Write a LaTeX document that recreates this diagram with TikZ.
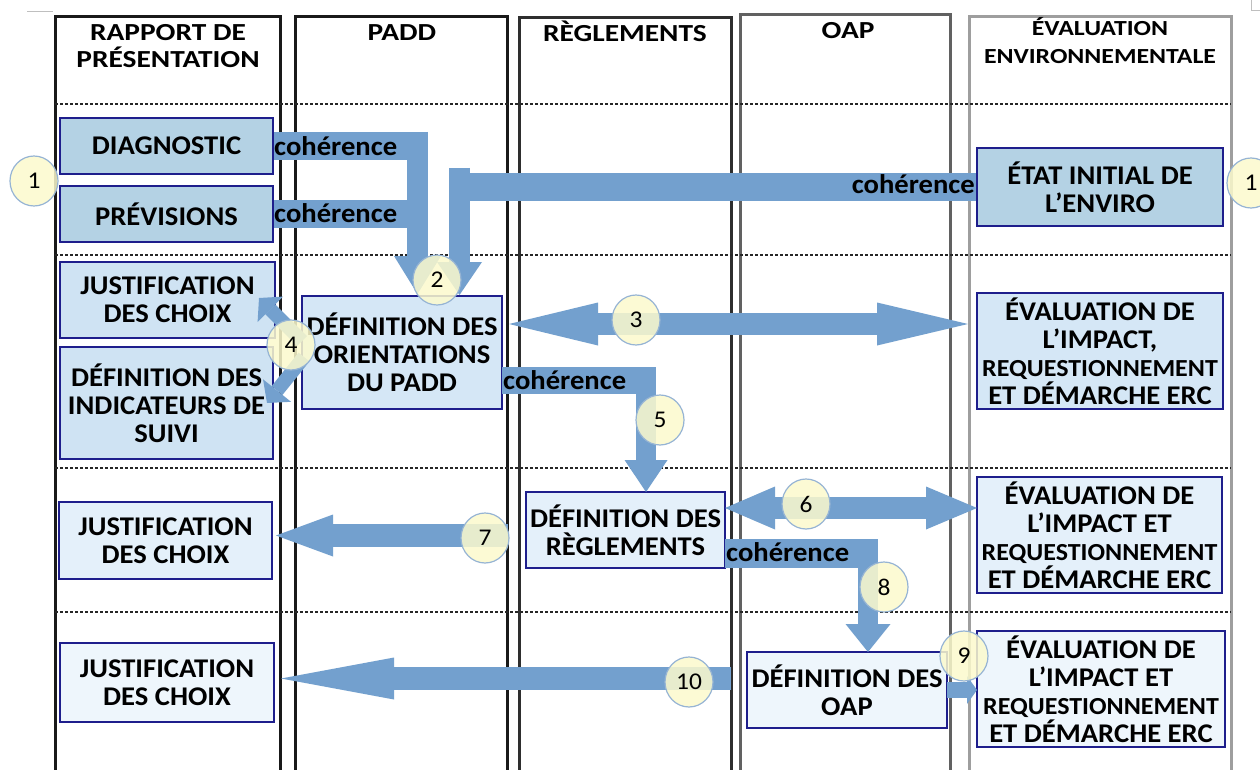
\documentclass[tikz,border=0pt]{standalone}
\usepackage{fontspec}
\setmainfont{Carlito}[FakeStretch=1.06]
\newfontfamily\hdrfont{Carlito}[FakeStretch=1.2]
\usetikzlibrary{arrows.meta,shapes.geometric}
\definecolor{navy}{RGB}{30,30,140}
\definecolor{arrowblue}{RGB}{115,160,206}
\definecolor{fillA}{RGB}{180,210,228}
\definecolor{fillB}{RGB}{207,227,243}
\definecolor{fillC}{RGB}{213,231,246}
\definecolor{fillD}{RGB}{228,240,250}
\definecolor{fillE}{RGB}{238,246,252}
\definecolor{circy}{RGB}{252,250,205}
\definecolor{circb}{RGB}{150,180,212}
\newcommand\bodyf{\bfseries\fontsize{27}{28}\selectfont}
\newcommand\reqf{\fontsize{24.5}{28}\selectfont}
\tikzset{
  colline/.style={line width=3pt},
  rowline/.style={line width=1.4pt, dash pattern=on 3pt off 2pt, draw=black!85},
  box/.style={draw=navy, line width=2pt, align=center, inner sep=0pt, font=\bodyf},
  hdr/.style={font=\hdrfont\bfseries\fontsize{24.5}{27}\selectfont, align=center, inner sep=0pt},
  hdrsmall/.style={font=\hdrfont\bfseries\fontsize{21.5}{28}\selectfont, align=center, inner sep=0pt},
  num/.style={ellipse, draw=circb, line width=1.2pt, fill=circy, fill opacity=0.85, text opacity=1,
    minimum width=48pt, minimum height=50pt, inner sep=0pt, font=\fontsize{24}{24}\selectfont},
  blk/.style={draw=arrowblue},
  coh/.style={font=\bodyf, inner sep=0pt},
}
\begin{document}
\begin{tikzpicture}[x=1pt,y=-1pt]
\useasboundingbox (0,0) rectangle (1260,770);
\fill[white] (0,0) rectangle (1260,770);

% small corner marks
\draw[black!25, line width=1pt] (27,12) -- (53,12);
\draw[black!25, line width=1pt] (1251,0) -- (1251,11) -- (1260,11);

% columns
\draw[colline, draw=black!90] (55,790) -- (55,17) -- (280,17) -- (280,790);
\draw[colline, draw=black!90] (295,790) -- (295,17) -- (507,17) -- (507,790);
\draw[colline, draw=black!82] (519,790) -- (519,18) -- (731.5,18) -- (731.5,790);
\draw[colline, draw=black!62] (740.5,790) -- (740.5,15) -- (950,15) -- (950,790);
\draw[colline, draw=black!38] (969,790) -- (969,17) -- (1231,17) -- (1231,790);

% row separators
\foreach \yy in {104,255,468,612} \draw[rowline] (55,\yy) -- (1231,\yy);

% headers
\node[hdr] (h1) at (168,46.5) {RAPPORT DE\\PRÉSENTATION};
\node[hdr] (h2) at (402,33) {PADD};
\node[hdr] (h3) at (625,31) {RÈGLEMENTS};
\node[hdr] (h4) at (848,31) {OAP};
\node[hdrsmall] (h5) at (1100,41) {ÉVALUATION\\ENVIRONNEMENTALE};

% boxes
\node[box, fill=fillA, minimum width=213pt, minimum height=56pt] (diag) at (166.5,146) {DIAGNOSTIC};
\node[box, fill=fillA, minimum width=213pt, minimum height=56pt] (prev) at (166.5,214) {PRÉVISIONS};
\node[box, fill=fillA, minimum width=246pt, minimum height=78pt] (etat) at (1100,187) {ÉTAT INITIAL DE\\L’ENVIRO};
\node[box, fill=fillB, minimum width=215pt, minimum height=76pt] (just2) at (167.5,300) {JUSTIFICATION\\DES CHOIX};
\node[box, fill=fillB, minimum width=213pt, minimum height=112pt] (indic) at (166.5,403) {DÉFINITION DES\\INDICATEURS DE\\SUIVI};
\node[box, fill=fillC, minimum width=200pt, minimum height=113pt] (padd) at (402,352.5) {DÉFINITION DES\\ORIENTATIONS\\DU PADD};
\node[box, fill=fillC, minimum width=246pt, minimum height=116pt] (eval2) at (1100,351) {ÉVALUATION DE\\L’IMPACT,\\{\reqf REQUESTIONNEMENT}\\ET DÉMARCHE ERC};
\node[box, fill=fillD, minimum width=199pt, minimum height=76pt] (regl) at (625.5,530) {DÉFINITION DES\\RÈGLEMENTS};
\node[box, fill=fillD, minimum width=213pt, minimum height=77pt] (just3) at (165.5,540.5) {JUSTIFICATION\\DES CHOIX};
\node[box, fill=fillD, minimum width=245pt, minimum height=116pt] (eval3) at (1099.5,535) {ÉVALUATION DE\\L’IMPACT ET\\{\reqf REQUESTIONNEMENT}\\ET DÉMARCHE ERC};
\node[box, fill=fillE, minimum width=200pt, minimum height=76pt] (oap) at (847,690) {DÉFINITION DES\\OAP};
\node[box, fill=fillE, minimum width=214pt, minimum height=79pt] (just4) at (167,682.5) {JUSTIFICATION\\DES CHOIX};
\node[box, fill=fillE, minimum width=248pt, minimum height=116pt] (eval4) at (1101,689) {ÉVALUATION DE\\L’IMPACT ET\\{\reqf REQUESTIONNEMENT}\\ET DÉMARCHE ERC};

% connector coordinates
\coordinate (a1c) at (428,146);
\coordinate (a1t) at (417.5,132);
\coordinate (a1e) at (417.5,294);
\coordinate (a2c) at (407,214);
\coordinate (a3c) at (449,187);
\coordinate (a3t) at (459.5,168);
\coordinate (a3e) at (459.5,295);
\coordinate (a4l) at (509,324);
\coordinate (a4r) at (968,324);
\coordinate (a5s) at (502,380.5);
\coordinate (a5c) at (656,380.5);
\coordinate (a5t) at (646,367);
\coordinate (a5e) at (646,492);
\coordinate (a6l) at (725,508);
\coordinate (a6r) at (977,508);
\coordinate (a7s) at (508,535.5);
\coordinate (a7e) at (276,535.5);
\coordinate (a8s) at (725,553.5);
\coordinate (a8c) at (878,553.5);
\coordinate (a8t) at (868,539);
\coordinate (a8e) at (868,652);
\coordinate (a9s) at (947,690);
\coordinate (a9e) at (977,690);
\coordinate (a10s) at (731,678.5);
\coordinate (a10e) at (281,678.5);
\coordinate (a4us) at (302,341);
\coordinate (a4ue) at (259,298);
\coordinate (a4ds) at (304,357);
\coordinate (a4de) at (267,403);

% bent arrows
\draw[blk, line width=28pt] (diag.east) -- (a1c);
\draw[blk, line width=21pt, -{Triangle[length=38pt,width=47pt,line width=0pt]}] (a1t) -- (a1e);
\draw[blk, line width=28pt] (prev.east) -- (a2c);
\draw[blk, line width=28pt] (etat.west) -- (a3c);
\draw[blk, line width=21pt, -{Triangle[length=33pt,width=45pt,line width=0pt]}] (a3t) -- (a3e);
% arrow 3 double
\draw[blk, line width=22pt, {Triangle[length=89pt,width=43pt,line width=0pt]}-{Triangle[length=91pt,width=43pt,line width=0pt]}] (a4l) -- (a4r);
% arrows 4
\draw[blk, line width=14pt, -{Triangle[length=16pt,width=36pt,line width=0pt]}] (a4us) -- (a4ue);
\draw[blk, line width=14pt, -{Triangle[length=16pt,width=36pt,line width=0pt]}] (a4ds) -- (a4de);
% arrow 5
\draw[blk, line width=27pt] (a5s) -- (a5c);
\draw[blk, line width=20pt, -{Triangle[length=32pt,width=43pt,line width=0pt]}] (a5t) -- (a5e);
% arrow 6
\draw[blk, line width=22pt, {Triangle[length=50pt,width=43pt,line width=0pt]}-{Triangle[length=51pt,width=43pt,line width=0pt]}] (a6l) -- (a6r);
% arrow 7
\draw[blk, line width=23pt, -{Triangle[length=57pt,width=42pt,line width=0pt]}] (a7s) -- (a7e);
% arrow 8
\draw[blk, line width=29pt] (a8s) -- (a8c);
\draw[blk, line width=20pt, -{Triangle[length=28pt,width=45pt,line width=0pt]}] (a8t) -- (a8e);
% arrow 9
\draw[blk, line width=16pt, -{Triangle[length=10pt,width=28pt,line width=0pt]}] (a9s) -- (a9e);
% arrow 10
\draw[blk, line width=23pt, -{Triangle[length=113pt,width=42pt,line width=0pt]}] (a10s) -- (a10e);

% coherence labels
\node[coh, anchor=west] (c1) at (274,146) {cohérence};
\node[coh, anchor=west] (c2) at (274,213) {cohérence};
\node[coh, anchor=east] (c3) at (975,184) {cohérence};
\node[coh, anchor=west] (c4) at (503,380) {cohérence};
\node[coh, anchor=west] (c5) at (726,552) {cohérence};

% numbered circles
\node[num] (n1l) at (34,181) {1};
\node[num] (n1r) at (1251,183) {1};
\node[num] (n2) at (437,280) {2};
\node[num] (n3) at (636,320) {3};
\node[num] (n4) at (291,345) {4};
\node[num] (n5) at (660,420) {5};
\node[num] (n6) at (806,504) {6};
\node[num] (n7) at (485,538) {7};
\node[num] (n8) at (884,587) {8};
\node[num] (n9) at (964,656) {9};
\node[num] (n10) at (689,682) {10};
\end{tikzpicture}
\end{document}
